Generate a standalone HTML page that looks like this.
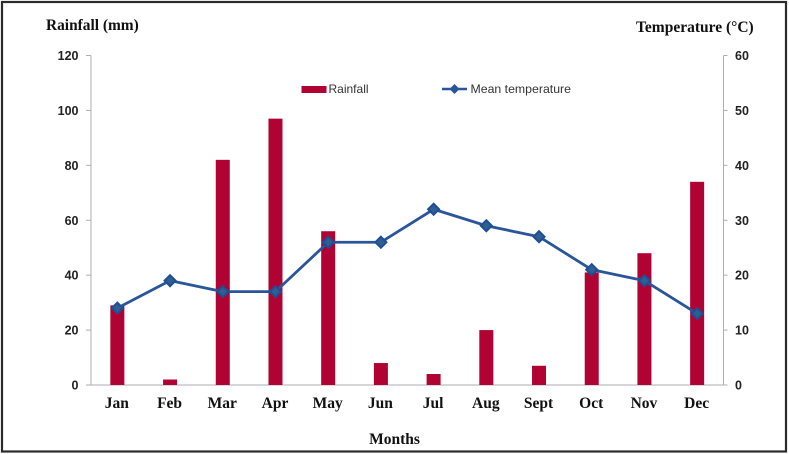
<!DOCTYPE html>
<html>
<head>
<meta charset="utf-8">
<style>
html,body{margin:0;padding:0;background:#fff;}
svg{display:block;}
.serif{font-family:"Liberation Serif",serif;font-weight:bold;fill:#111;}
.tick{font-family:"Liberation Sans",sans-serif;font-weight:bold;font-size:12.5px;fill:#222;}
</style>
</head>
<body>
<svg id="chart" width="789" height="454" viewBox="0 0 789 454" xmlns="http://www.w3.org/2000/svg">
<rect x="2" y="2" width="784" height="449.5" fill="#fff" stroke="#2b2b2b" stroke-width="2.2"/>
<text class="serif" x="46" y="30" font-size="15.4">Rainfall (mm)</text>
<text class="serif" x="636" y="32" font-size="15.5">Temperature (°C)</text>
<text class="serif" x="394.500" y="444" font-size="15.5" text-anchor="middle">Months</text>
<g id="axes"></g>
<g id="bars"></g>
<g id="line"></g>
<g>
<rect x="301.500" y="86" width="25" height="7" fill="#b00233"/>
<text x="328.500" y="93" font-family="'Liberation Sans',sans-serif" font-size="12" fill="#333">Rainfall</text>
<line x1="442" y1="89" x2="467" y2="89" stroke="#2a5599" stroke-width="2.500"/>
<path d="M454.500 84L459.500 89L454.500 94L449.500 89Z" fill="#2a5599"/>
<text x="470.500" y="93" font-family="'Liberation Sans',sans-serif" font-size="12.300" fill="#333">Mean temperature</text>
</g>
</svg>
<script>
const months = ['Jan','Feb','Mar','Apr','May','Jun','Jul','Aug','Sept','Oct','Nov','Dec'];
const rainfall = [29,2,82,97,56,8,4,20,7,41,48,74];
const temperature = [14,19,17,17,26,26,32,29,27,21,19,13];
const leftTicks = [0,20,40,60,80,100,120];
const rightTicks = [0,10,20,30,40,50,60];

const NS = 'http://www.w3.org/2000/svg';
const plotLeft = 91, plotRight = 723.5, plotTop = 55.5, plotBottom = 385;
const leftMax = 120, rightMax = 60;
const xBand = i => plotLeft + (plotRight - plotLeft) * (i + 0.5) / months.length;
const yLeft = v => plotBottom - (plotBottom - plotTop) * v / leftMax;
const yRight = v => plotBottom - (plotBottom - plotTop) * v / rightMax;
function make(tag, attrs, parent, text) {
  const el = document.createElementNS(NS, tag);
  for (const k in attrs) el.setAttribute(k, attrs[k]);
  if (text !== undefined) el.textContent = text;
  parent.appendChild(el);
  return el;
}
const axes = document.getElementById('axes');
const bars = document.getElementById('bars');
const line = document.getElementById('line');
const axisColor = '#aeaeae';

const leftAxis = make('line', {x1: plotLeft, y1: plotTop, x2: plotLeft, y2: plotBottom, stroke: axisColor, 'stroke-width': 1}, axes);


const rightAxis = make('line', {x1: plotRight, y1: plotTop, x2: plotRight, y2: plotBottom, stroke: axisColor, 'stroke-width': 1}, axes);


const baseAxis = make('line', {x1: plotLeft - 5, y1: plotBottom, x2: plotRight + 4, y2: plotBottom, stroke: axisColor, 'stroke-width': 1}, axes);



leftTicks.forEach(v => {
  const y = yLeft(v);
  const t = make('line', {x1: plotLeft - 5, y1: y, x2: plotLeft, y2: y, stroke: axisColor, 'stroke-width': 1}, axes);
  
  
  const l = make('text', {x: 78.500, y: y + 4.500, 'text-anchor': 'end', class: 'tick'}, axes, v);
  
  
});
rightTicks.forEach(v => {
  const y = yRight(v);
  const t = make('line', {x1: plotRight, y1: y, x2: plotRight + 4, y2: y, stroke: axisColor, 'stroke-width': 1}, axes);
  
  
  const l = make('text', {x: 735, y: y + 4.500, class: 'tick'}, axes, v);
  
  
});
months.forEach((m, i) => {
  const l = make('text', {x: xBand(i) - 0.500, y: 408, 'text-anchor': 'middle', class: 'serif', 'font-size': 15.500}, axes, m);
  
  
});
rainfall.forEach((v, i) => {
  const y = yLeft(v);
  const b = make('rect', {x: xBand(i) - 7, y: y, width: 14, height: plotBottom - y, fill: '#b00233'}, bars);
  
  
});
const pts = temperature.map((v, i) => xBand(i) + ',' + yRight(v)).join(' ');
const poly = make('polyline', {points: pts, fill: 'none', stroke: '#2a5599', 'stroke-width': 2.800, 'stroke-linejoin': 'round'}, line);


temperature.forEach((v, i) => {
  const x = xBand(i), y = yRight(v), r = 5.500;
  const d = make('path', {d: `M${x} ${y - r}L${x + r} ${y}L${x} ${y + r}L${x - r} ${y}Z`, fill: '#2f5f8f', stroke: '#1f4e96', 'stroke-width': 2}, line);
  
  
});
</script>
</body>
</html>
